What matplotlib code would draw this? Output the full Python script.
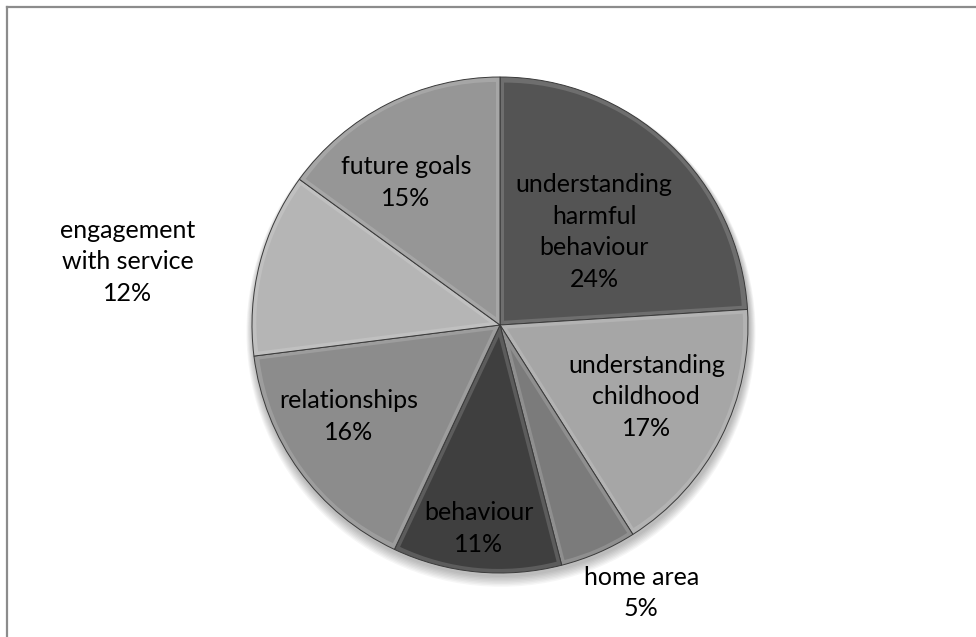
import numpy as np
import matplotlib.pyplot as plt
from matplotlib.patches import Wedge, Circle
from matplotlib.lines import Line2D
from matplotlib.colors import to_rgb

# share of sessions by topic
labels = ["understanding\nharmful\nbehaviour", "understanding\nchildhood", "home area",
          "behaviour", "relationships", "engagement\nwith service", "future goals"]
shares = [24, 17, 5, 11, 16, 12, 15]
colors = ["#545454", "#a6a6a6", "#7b7b7b", "#3f3f3f", "#8c8c8c", "#b5b5b5", "#969696"]

# where each label sits, as a fraction of the radius away from the centre
label_xy = [(0.38, 0.375), (0.59, -0.29), (0.57, -1.08), (-0.085, -0.82),
            (-0.61, -0.37), (-1.5, 0.255), (-0.38, 0.575)]

W, H = 976, 637
cx, cy, r = 500, 312, 248

fig = plt.figure(figsize=(W / 100, H / 100), dpi=100)
ax = fig.add_axes([0, 0, 1, 1])


def lighten(c, amt):
    c = np.array(to_rgb(c))
    return tuple(c + (1 - c) * amt)


# soft drop shadow under the pie
for k in range(8):
    ax.add_patch(Circle((cx + 1, cy - 3 - k * 0.6), r + 1 + k * 0.8,
                        facecolor="black", alpha=0.035, edgecolor="none", zorder=0))

rim_colors = [lighten(c, 0.15) for c in colors]
wedges, _ = ax.pie(shares, colors=rim_colors, startangle=90, counterclock=False,
                   center=(cx, cy), radius=r,
                   wedgeprops=dict(edgecolor="#3a3a3a", linewidth=0.7))

# inset wedge in the base colour gives each slice a bevelled rim
d = 4
for w, c in zip(wedges, colors):
    t1, t2 = w.theta1, w.theta2
    half = np.radians(t2 - t1) / 2
    mid = np.radians((t1 + t2) / 2)
    shift = d / np.sin(half)
    px = cx + shift * np.cos(mid)
    py = cy + shift * np.sin(mid)
    ax.add_patch(Wedge((px, py), r - d - shift, t1, t2,
                       facecolor=c, edgecolor="none", zorder=w.get_zorder() + 0.1))

for lab, s, (fx, fy) in zip(labels, shares, label_xy):
    ax.text(cx + fx * r, cy + fy * r, f"{lab}\n{s}%", ha="center", va="center",
            fontsize=18, family="Lato", linespacing=1.45, color="black", zorder=5)

ax.set_xlim(0, W)
ax.set_ylim(0, H)
ax.set_aspect("equal")
ax.axis("off")

# chart area border (top and left edges only are visible)
fig.add_artist(Line2D([7 / W, 1], [1 - 7 / H, 1 - 7 / H], color="#8c8c8c", lw=1.6))
fig.add_artist(Line2D([7 / W, 7 / W], [0, 1 - 7 / H], color="#8c8c8c", lw=1.6))

fig.savefig("out.png", dpi=100)
